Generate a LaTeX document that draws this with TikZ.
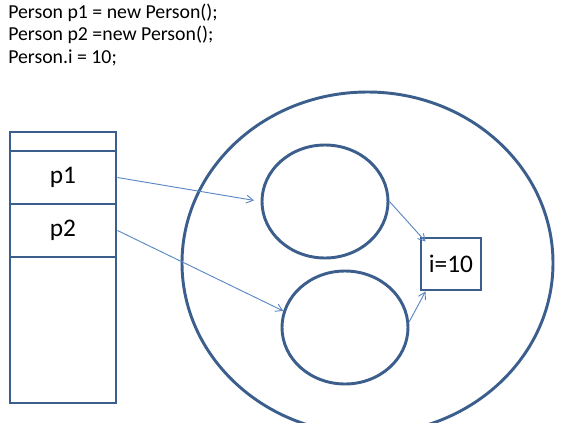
\documentclass[tikz,border=0pt]{standalone}
\usepackage{fontspec}
\setmainfont{Carlito}
\usetikzlibrary{shapes.geometric,arrows.meta}

\definecolor{shapeblue}{HTML}{3B5E8C}
\definecolor{arrowblue}{HTML}{5B88C4}

\begin{document}
\begin{tikzpicture}[x=0.75pt, y=-0.75pt,
	codeline/.style={anchor=base west, inner sep=0pt, font=\fontsize{14.85}{17}\selectfont},
	cell/.style={draw=shapeblue, line width=2.2pt, rectangle, minimum width=79.5pt, inner sep=0pt, font=\fontsize{19}{19}\selectfont},
	blob/.style={draw=shapeblue, line width=2.2pt, ellipse, inner sep=0pt},
	ref/.style={draw=arrowblue, line width=0.7pt, -{Straight Barb[length=5pt, width=6pt]}}]

	\useasboundingbox (0,0) rectangle (561,422);

	%% The code lines, one baseline every 22.5 units
	\foreach [count=\r] \txt in {{Person p1 = new Person();}, {Person p2 =new Person();}, {Person.i = 10;}}{%
		\node[codeline] at (8, -4.2+\r*22.5) (line\r) {\txt};
	}

	%% The stack: name / centre y / height / label
	\foreach \n/\y/\h/\lbl in {top/141.5/19/{}, p1/177.5/53/p1, p2/230.5/53/p2, rest/330/146/{}}{%
		\node[cell, minimum height=\h*0.75pt] at (63, \y) (\n) {\lbl};
	}

	%% The heap and the two objects in it
	\node[blob, minimum width=278.25pt, minimum height=256.5pt] at (367.5, 263) (heap) {};
	\node[blob, minimum width=94.5pt, minimum height=84.75pt] at (325, 201.5) (obj1) {};
	\node[blob, minimum width=94.5pt, minimum height=84.75pt] at (345, 327.5) (obj2) {};

	%% The static field
	\node[draw=shapeblue, line width=2.2pt, minimum width=45pt, minimum height=39pt, inner sep=0pt, font=\fontsize{19}{19}\selectfont] at (451, 264) (static) {i=10};

	%% References
	\draw[ref, shorten >=5pt] (p1.east) -- (obj1.west);
	\draw[ref] (p2.east) -- (obj2.165);
	\draw[ref] (obj1.east) -- ([xshift=4.5pt, yshift=-3.75pt]static.north west);
	\draw[ref] (obj2.5) -- ([xshift=4.5pt]static.south west);

\end{tikzpicture}
\end{document}
